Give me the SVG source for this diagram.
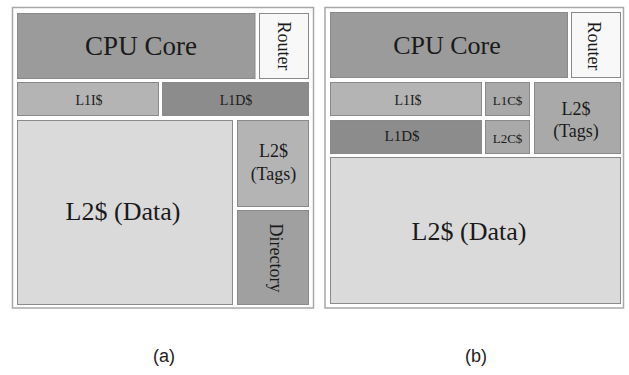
<svg xmlns="http://www.w3.org/2000/svg" width="629" height="375" viewBox="0 0 629 375">
<style>
.frame{fill:#ffffff;stroke:#a8a8a8;stroke-width:1.5}
.blk{stroke:#8a8a8a;stroke-width:1}
.t{font-family:"Liberation Serif","Times New Roman",serif;fill:#1a1a1a;text-anchor:middle}
.s{font-family:"Liberation Sans",Arial,sans-serif;fill:#222;text-anchor:middle;font-size:18px}
.core{fill:#9b9b9b}.router{fill:#f8f8f8}.l1i{fill:#b4b4b4}.l1d{fill:#8c8c8c}
.data{fill:#dadada}.tags{fill:#b4b4b4}.dir{fill:#a0a0a0}.small{fill:#a9a9a9}.tagsb{fill:#a9a9a9}
</style>
<rect width="629" height="375" fill="#ffffff"/>
<g id="panel-a">
<rect class="frame" x="12.5" y="7.5" width="301" height="300.5"/>
<g id="a-cpu"><rect class="blk core" x="17.5" y="13.5" width="237.5" height="65"/><text class="t" x="141" y="55" font-size="27">CPU Core</text></g>
<g id="a-router"><rect class="blk router" x="259.5" y="13.5" width="49" height="65"/><text class="t" font-size="18" transform="translate(277.5,46) rotate(90)">Router</text></g>
<g id="a-l1i"><rect class="blk l1i" x="17.5" y="82.5" width="141" height="33"/><text class="t" x="89" y="105" font-size="14">L1I$</text></g>
<g id="a-l1d"><rect class="blk l1d" x="162.5" y="82.5" width="146" height="33"/><text class="t" x="236" y="105" font-size="14">L1D$</text></g>
<g id="a-l2data"><rect class="blk data" x="17.5" y="120.5" width="215" height="184"/><text class="t" x="123" y="220" font-size="26">L2$ (Data)</text></g>
<g id="a-l2tags"><rect class="blk tags" x="237.5" y="120.5" width="71" height="86"/><text class="t" x="273.5" y="157" font-size="18">L2$</text><text class="t" x="273.5" y="180" font-size="18">(Tags)</text></g>
<g id="a-dir"><rect class="blk dir" x="237.5" y="210.5" width="71" height="94"/><text class="t" font-size="18" transform="translate(270,258) rotate(90)">Directory</text></g>
</g>
<g id="panel-b">
<rect class="frame" x="325" y="7.5" width="298.5" height="300.5"/>
<g id="b-cpu"><rect class="blk core" x="330.5" y="12.5" width="237" height="65"/><text class="t" x="447" y="53.5" font-size="26">CPU Core</text></g>
<g id="b-router"><rect class="blk router" x="571.5" y="12.5" width="49" height="65"/><text class="t" font-size="18" transform="translate(588,46) rotate(90)">Router</text></g>
<g id="b-l1i"><rect class="blk l1i" x="330.5" y="82.5" width="151" height="33"/><text class="t" x="408" y="104.5" font-size="14">L1I$</text></g>
<g id="b-l1c"><rect class="blk small" x="485.5" y="82.5" width="44" height="33"/><text class="t" x="507.5" y="105" font-size="13">L1C$</text></g>
<g id="b-l1d"><rect class="blk l1d" x="330.5" y="120.5" width="151" height="33"/><text class="t" x="402" y="140.5" font-size="15">L1D$</text></g>
<g id="b-l2c"><rect class="blk small" x="485.5" y="120.5" width="44" height="33"/><text class="t" x="507.5" y="142.5" font-size="13">L2C$</text></g>
<g id="b-l2tags"><rect class="blk tagsb" x="534.5" y="82.5" width="86" height="71"/><text class="t" x="576" y="114.5" font-size="18">L2$</text><text class="t" x="576" y="136.5" font-size="18">(Tags)</text></g>
<g id="b-l2data"><rect class="blk data" x="330.5" y="157.5" width="290" height="146"/><text class="t" x="469" y="240" font-size="26">L2$ (Data)</text></g>
</g>
<text class="s" x="164" y="361.5">(a)</text>
<text class="s" x="476" y="361.5">(b)</text>
</svg>
